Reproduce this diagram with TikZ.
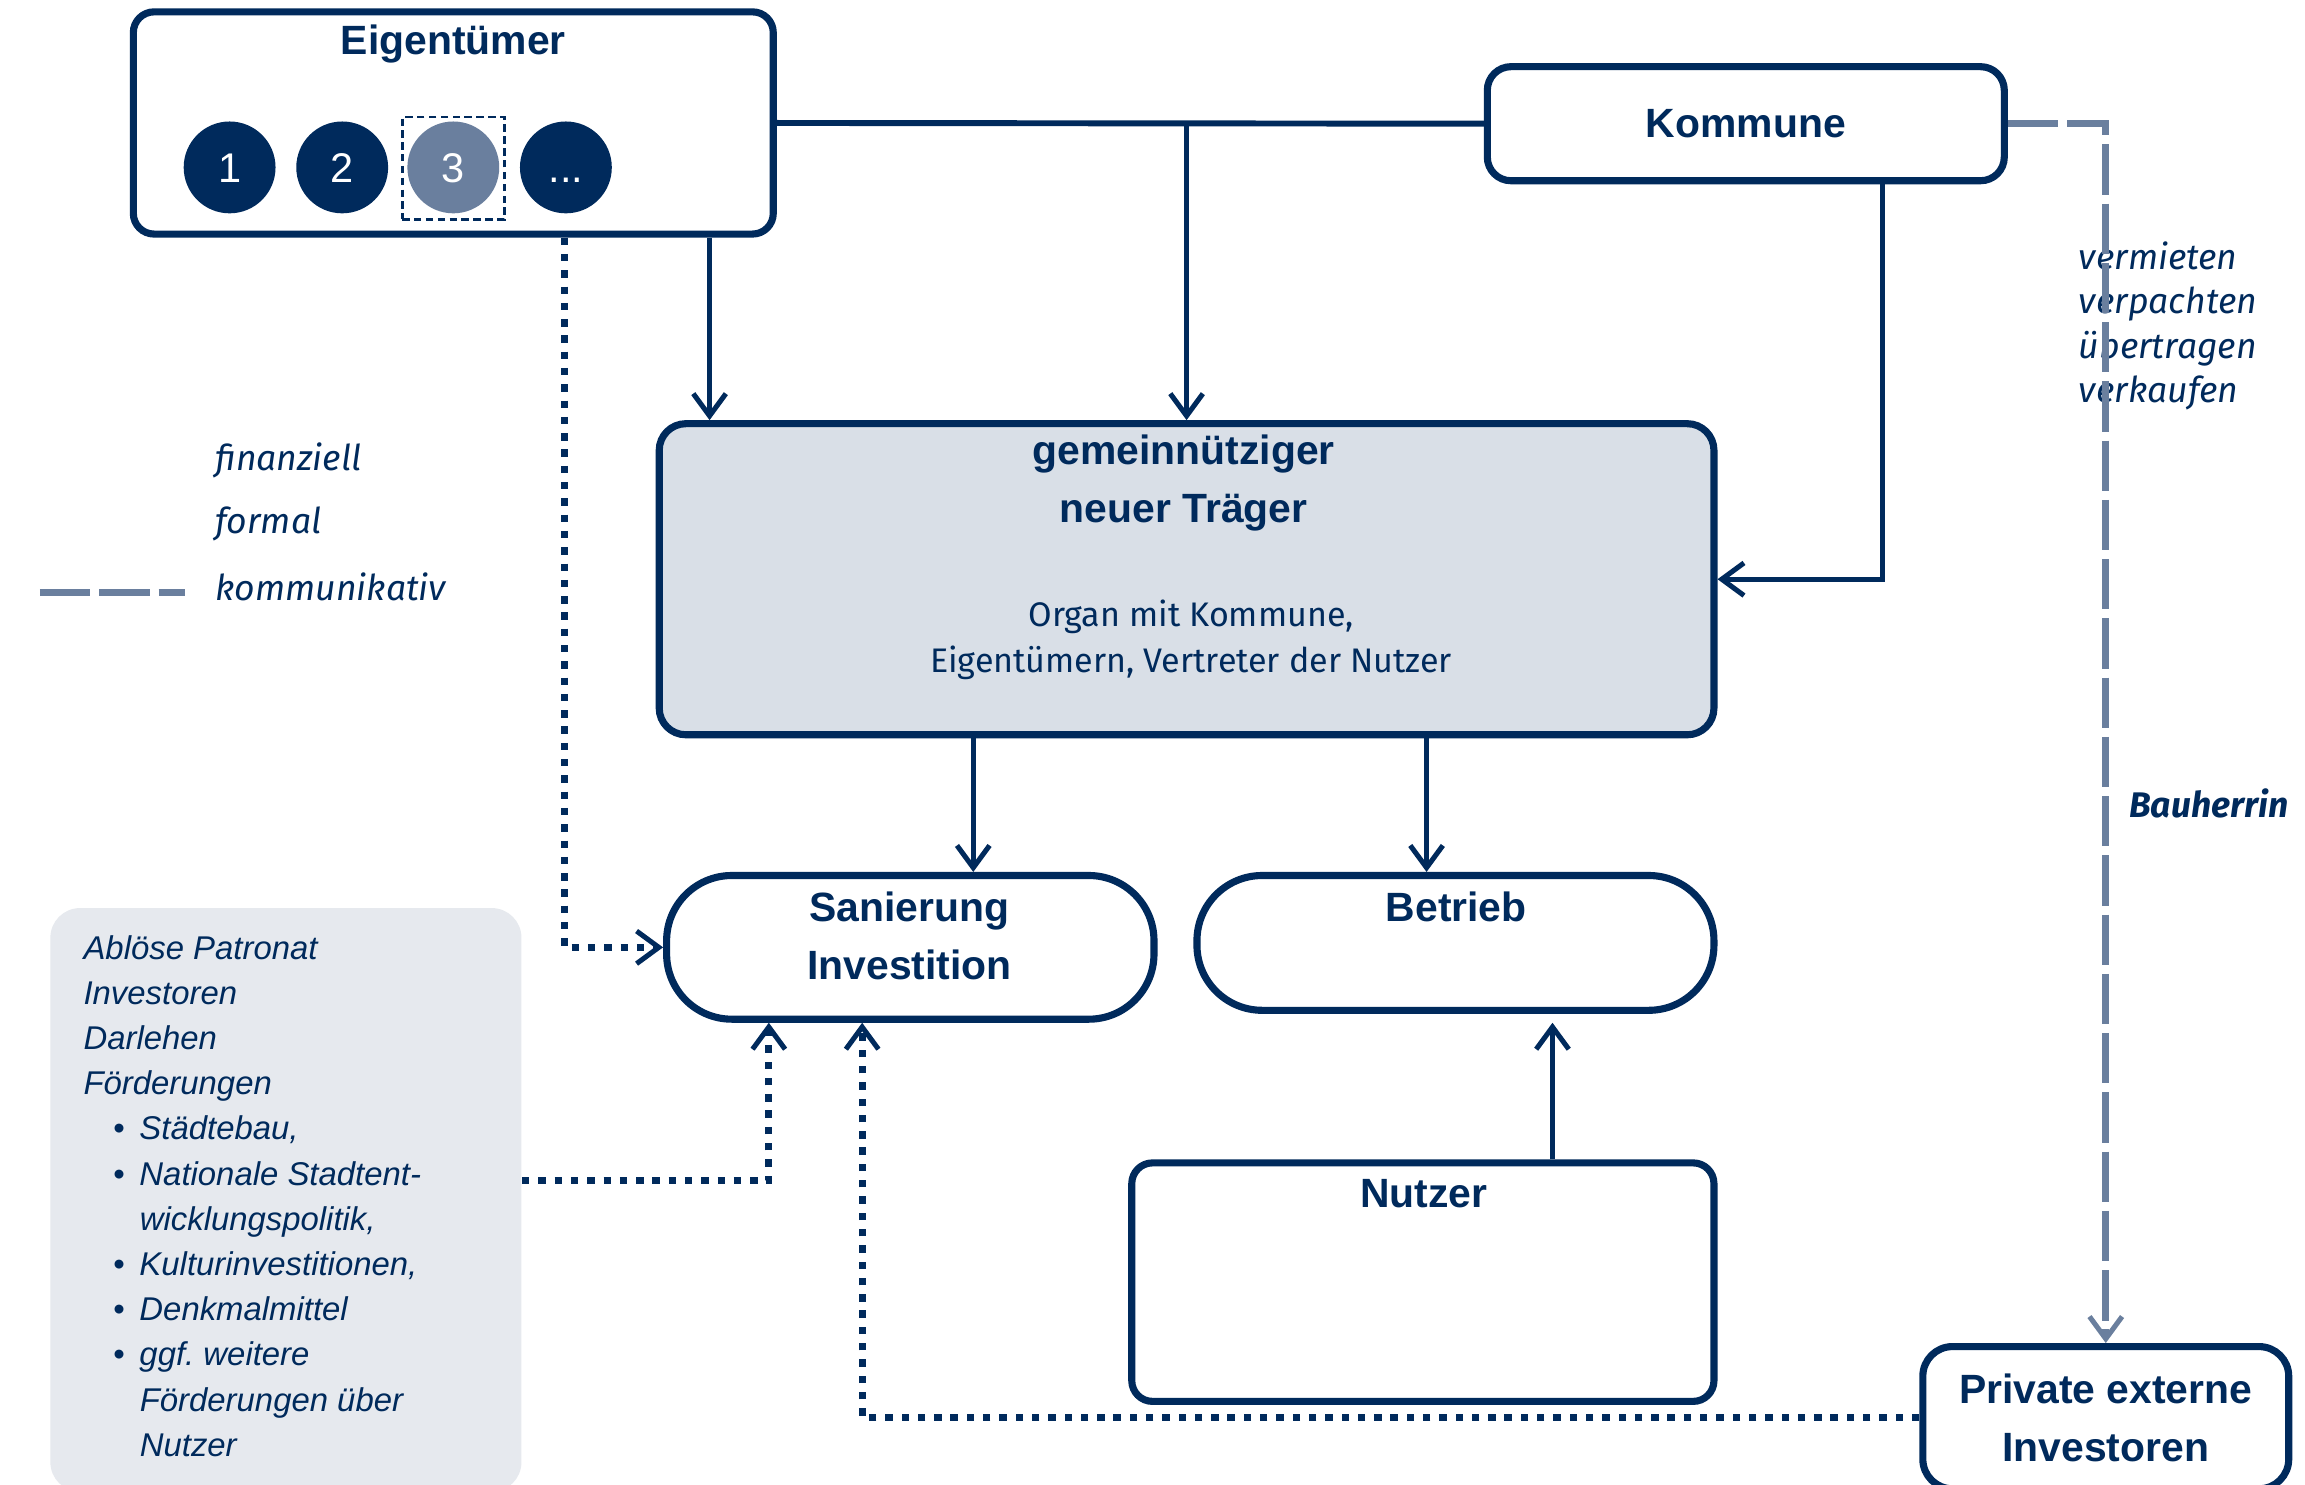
\documentclass[tikz,border=0pt]{standalone}
\usepackage{fontspec}
\setmainfont{Liberation Sans}
\newfontfamily\firasans{Fira Sans}
\usepackage{tikz}
\usetikzlibrary{arrows.meta}
\definecolor{navy}{RGB}{0,42,92}
\definecolor{greyblue}{RGB}{106,127,158}
\definecolor{traegerfill}{RGB}{217,223,231}
\definecolor{foerdfill}{RGB}{230,233,238}
\frenchspacing

\begin{document}
\begin{tikzpicture}[x=0.5pt,y=0.5pt,yscale=-1,
  every node/.style={text=navy},
  boxnode/.style={draw=navy, line width=2.4pt, rounded corners=7pt, fill=white, inner sep=0pt},
  titletext/.style={font=\bfseries\fontsize{13.8}{19.5}\selectfont, align=center, inner sep=0pt},
  owner/.style={circle, fill=navy, text=white, minimum size=31pt, inner sep=0pt, text height=10pt, text depth=0pt, font=\fontsize{14}{14}\selectfont},
  tip/.style={-{Straight Barb[length=7.5pt,width=11pt,line width=1.7pt]}},
  conn/.style={draw=navy, line width=2pt},
  arr/.style={draw=navy, line width=1.7pt, tip},
  dotline/.style={draw=navy, line width=2.3pt, dash pattern={on 2.5pt off 3pt}, tip},
  dashline/.style={draw=greyblue, line width=2.3pt, dash pattern={on 17pt off 3pt}},
  labeltext/.style={font=\firasans\itshape\fontsize{12}{15}\selectfont, align=left, inner sep=0pt, anchor=west}
]
%set diagram size
\path[fill=white] (0,0) rectangle (1556,1002);
\useasboundingbox (0,0) rectangle (1556,1002);

%Rounded Rect: Eigentuemer
\node[boxnode, minimum width=216pt, minimum height=75pt] (eig) at (306,83) {};
% Text Node
\node[titletext] (eigT) at (306,29.5) {Eigentümer};
%Circles
\foreach \lbl/\cx/\nm in {1/155/e1, 2/231/e2, {...}/382/e4}
  \node[owner] (\nm) at (\cx,113) {\lbl};
\node[owner, fill=greyblue] (e3) at (306,113) {3};
\node[draw=navy, line width=0.9pt, dash pattern={on 2.5pt off 1.5pt}, minimum size=34.5pt, inner sep=0pt] (e3frame) at (306,113.5) {};

%Rounded Rect: Kommune
\node[boxnode, rounded corners=8pt, minimum width=174.5pt, minimum height=38.5pt, titletext] (kom) at (1178.5,83.5) {Kommune};

%Rounded Rect: Traeger
\node[boxnode, rounded corners=9pt, fill=traegerfill, minimum width=356pt, minimum height=105pt] (traeger) at (801,391) {};
% Text Node
\node[titletext] (traegerT) at (799,326) {gemeinnütziger\\neuer Träger};
% Text Node
\node[font=\firasans\fontsize{11.5}{15.5}\selectfont, align=center, inner sep=0pt] (traegerS) at (804,432) {Organ mit Kommune,\\Eigentümern, Vertreter der Nutzer};

%Stadium: Sanierung
\node[boxnode, rounded corners=22pt, minimum width=164.5pt, minimum height=48.5pt] (san) at (614.5,639.5) {};
\node[titletext] (sanT) at (614,632) {Sanierung\\Investition};

%Stadium: Betrieb
\node[boxnode, rounded corners=22pt, minimum width=174.5pt, minimum height=45.5pt] (betr) at (982.5,636.5) {};
\node[titletext] (betrT) at (983,612) {Betrieb};

%Rounded Rect: Nutzer
\node[boxnode, minimum width=196.5pt, minimum height=80.5pt] (nutz) at (960.5,865.5) {};
\node[titletext] (nutzT) at (961,806) {Nutzer};

%Rounded Rect: Private
\node[boxnode, rounded corners=10pt, minimum width=123.5pt, minimum height=48pt, titletext] (priv) at (1421.5,957) {Private externe\\Investoren};

%Rounded Rect: Foerderungen
\node[fill=foerdfill, rounded corners=10pt, minimum width=159pt, minimum height=197pt, inner sep=0pt] (foerd) at (193,810) {};
\node[anchor=north west, align=left, inner sep=0pt, font=\itshape\fontsize{11.1}{15.25}\selectfont] (foerdT) at (56,631) {Ablöse Patronat\\Investoren\\Darlehen\\Förderungen\\
\hspace*{10pt}\textbullet\hspace*{5pt}Städtebau,\\
\hspace*{10pt}\textbullet\hspace*{5pt}Nationale Stadtent-\\
\hspace*{19pt}wicklungspolitik,\\
\hspace*{10pt}\textbullet\hspace*{5pt}Kulturinvestitionen,\\
\hspace*{10pt}\textbullet\hspace*{5pt}Denkmalmittel\\
\hspace*{10pt}\textbullet\hspace*{5pt}ggf. weitere\\
\hspace*{19pt}Förderungen über\\
\hspace*{19pt}Nutzer};

% Text Node
\node[labeltext] (vermT) at (1403,220) {vermieten\\verpachten\\übertragen\\verkaufen};
% Text Node
\node[labeltext, font=\firasans\bfseries\itshape\fontsize{12}{15}\selectfont] (bauT) at (1437,542) {Bauherrin};
% Text Node
\node[labeltext] (legFin) at (145,311) {finanziell};
\node[labeltext] (legForm) at (145,354) {formal};
\node[labeltext] (legKom) at (145,396) {kommunikativ};

%Straight Lines
\draw[conn] (eig.east) -- (kom.west);
\draw[arr] (traeger.north |- kom.west) -- (traeger.north);
\draw[arr] ([xshift=86.5pt]eig.south) -- ([xshift=86.5pt]eig.south |- traeger.north);
\draw[arr] ([xshift=46.25pt]kom.south) |- (traeger.east);
\draw[arr] ([xshift=-72pt]traeger.south) -- ([xshift=-72pt]traeger.south |- san.north);
\draw[arr] ([xshift=81pt]traeger.south) -- ([xshift=81pt]traeger.south |- betr.north);
\draw[arr, shorten >=3pt] ([xshift=43.75pt]nutz.north) -- ([xshift=43.75pt]nutz.north |- betr.south);
%Dashed Lines
\draw[dashline, -{Straight Barb[length=7.5pt,width=11pt,line width=1.7pt]}] (kom.east) -| (priv.north);
\draw[dashline] ([xshift=-59pt,yshift=2pt]legKom.west) -- ([xshift=-10pt,yshift=2pt]legKom.west);
%Dotted Lines
\draw[dotline] ([xshift=37.5pt]eig.south) |- (san.west);
\draw[dotline] ([yshift=-6.5pt]foerd.east) -| ([xshift=-47.75pt]san.south);
\draw[dotline] (priv.west) -| ([xshift=-16.25pt]san.south);

\end{tikzpicture}
\end{document}
